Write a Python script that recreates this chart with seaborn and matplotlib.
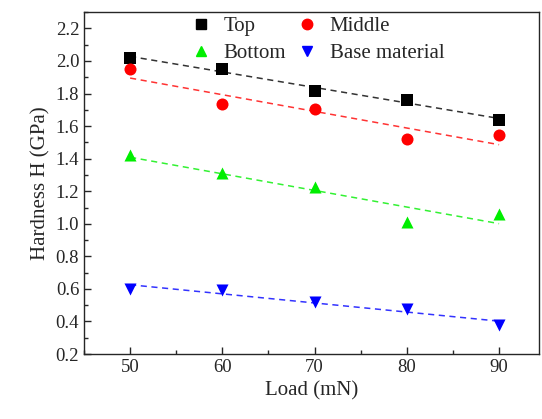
import matplotlib

matplotlib.use("Agg")
import matplotlib.pyplot as plt
import numpy as np
import pandas as pd
import seaborn as sns
from matplotlib.ticker import MultipleLocator, FormatStrFormatter

load = [50, 60, 70, 80, 90]
top = [2.02, 1.953, 1.815, 1.76, 1.64]
middle = [1.95, 1.733, 1.705, 1.52, 1.545]
bottom = [1.42, 1.31, 1.225, 1.01, 1.06]
base = [0.60, 0.594, 0.52, 0.475, 0.38]

series = [
    ("Top", top, "#000000", "s"),
    ("Middle", middle, "#ff0000", "o"),
    ("Bottom", bottom, "#00ee00", "^"),
    ("Base material", base, "#0000ff", "v"),
]

sns.set_style("ticks")
plt.rcParams["font.family"] = ["Liberation Serif", "DejaVu Serif"]
plt.rcParams["xtick.direction"] = "in"
plt.rcParams["ytick.direction"] = "in"

fig = plt.figure(figsize=(5.42, 4.19), dpi=100)
ax = fig.add_axes([0.155, 0.155, 0.839, 0.816])

for name, vals, col, mk in series:
    df = pd.DataFrame({"load": load, "h": vals})
    sns.regplot(data=df, x="load", y="h", ci=None, ax=ax, color=col,
                marker=mk,
                scatter_kws={"s": 75, "alpha": 1, "linewidths": 0},
                line_kws={"ls": (0, (4, 3)), "lw": 1.1, "alpha": 0.8})

ax.set_xlim(45, 94.3)
ax.set_ylim(0.2, 2.3)
ax.xaxis.set_major_locator(MultipleLocator(10))
ax.xaxis.set_minor_locator(MultipleLocator(5))
ax.yaxis.set_major_locator(MultipleLocator(0.2))
ax.yaxis.set_minor_locator(MultipleLocator(0.1))
ax.yaxis.set_major_formatter(FormatStrFormatter("%.1f"))
ax.tick_params(which="major", length=5, width=1, labelsize=13.5)
ax.tick_params(which="minor", length=3, width=1)
for s in ax.spines.values():
    s.set_linewidth(1)
    s.set_visible(True)

ax.set_xlabel("Load (mN)", fontsize=15)
ax.set_ylabel("Hardness H (GPa)", fontsize=15)

# column-wise fill: Top/Bottom in col 1, Middle/Base in col 2
order = [0, 2, 1, 3]
handles = [plt.Line2D([], [], ls="none", marker=series[i][3], color=series[i][2],
                      markersize=7.5) for i in order]
labels = [series[i][0] for i in order]
ax.legend(handles, labels, ncol=2, frameon=False,
          loc="upper center", bbox_to_anchor=(0.513, 1.042), fontsize=15,
          handletextpad=0.6, columnspacing=0.5, labelspacing=0.35,
          handlelength=1.0)

fig.savefig("out.png", dpi=100)
